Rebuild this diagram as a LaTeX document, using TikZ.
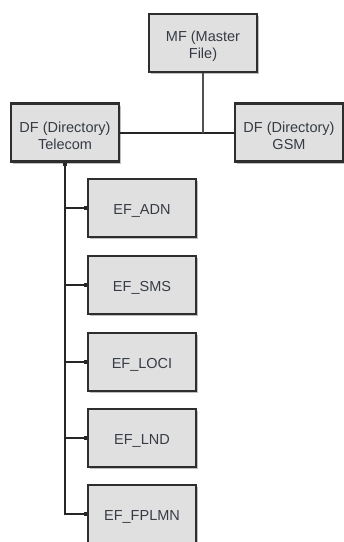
\documentclass[tikz,border=0pt]{standalone}
\usepackage{fontspec}
\setmainfont{Liberation Sans}
\usetikzlibrary{arrows.meta,shadows}
\definecolor{boxfill}{HTML}{E0E0E0}
\definecolor{boxline}{HTML}{2E2E2E}
\definecolor{txt}{HTML}{363B44}
\definecolor{wire}{HTML}{262626}
\tikzset{
  boxtext/.style={align=center, text=txt, font=\fontsize{14.5}{16.8}\selectfont, inner sep=0pt},
  filebox/.style={draw=boxline, line width=2.2pt, fill=boxfill, minimum width=108pt, minimum height=58pt,
    inner sep=0pt, boxtext, text height=12pt, text depth=0pt,
    drop shadow={shadow xshift=2pt, shadow yshift=-2pt, opacity=0.25, fill=black}},
  dirlabel/.style={label={[boxtext,yshift=-3pt]center:{#1}}},
  wireline/.style={draw=wire, line width=2pt},
  endmark/.style={-{Square[length=3pt,width=4.5pt]}},
  startmark/.style={{Square[length=3pt,width=4.5pt]}-}
}
\begin{document}
\begin{tikzpicture}[x=1pt,y=-1pt]
\useasboundingbox (0,0) rectangle (344,542);
\node[filebox,dirlabel={MF (Master\\File)}] (MF) at (203,43) {};
\node[filebox,dirlabel={DF (Directory)\\Telecom}] (TEL) at (65,132.5) {};
\node[filebox,dirlabel={DF (Directory)\\GSM}] (GSM) at (289,132.5) {};
\node[filebox] (ADN) at (142,208) {EF\_ADN};
\node[filebox] (SMS) at (142,285) {EF\_SMS};
\node[filebox] (LOCI) at (142,362) {EF\_LOCI};
\node[filebox] (LND) at (142,438) {EF\_LND};
\node[filebox] (FPLMN) at (142,514) {EF\_FPLMN};
\draw[wireline] (TEL.east) -- (GSM.west);
\draw[wireline,draw=wire!80] (MF.south) -- (MF.south |- TEL.east);
\draw[wireline,startmark] (TEL.south) -- (TEL.south |- FPLMN.west) -- (FPLMN.west);
\draw[wireline,endmark] (TEL.south |- ADN.west) -- (ADN.west);
\draw[wireline,endmark] (TEL.south |- SMS.west) -- (SMS.west);
\draw[wireline,endmark] (TEL.south |- LOCI.west) -- (LOCI.west);
\draw[wireline,endmark] (TEL.south |- LND.west) -- (LND.west);
\draw[wireline,endmark] (TEL.south |- FPLMN.west) -- (FPLMN.west);
\end{tikzpicture}
\end{document}
